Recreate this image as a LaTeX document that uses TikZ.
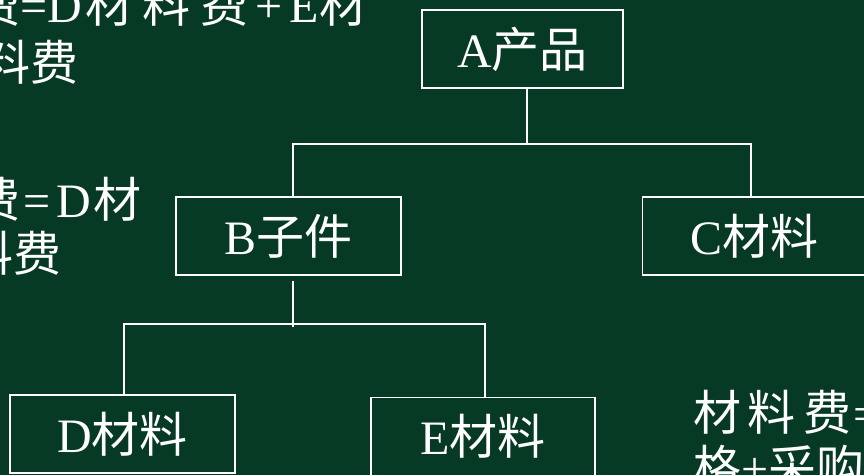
\documentclass[tikz,border=0pt]{standalone}
\usepackage{fontspec}
\setmainfont{Liberation Serif}
\newfontfamily\cjk{Noto Sans CJK SC}
\definecolor{bg}{HTML}{073A24}
\newcommand\cj[1]{{\cjk #1}}
\newcommand\hs[1]{\hspace*{#1pt}}
\begin{document}
\begin{tikzpicture}[x=1pt,y=-1pt,
  box/.style={draw=white, line width=1.6pt, inner sep=0pt, minimum height=78pt,
    text height=36pt, text depth=0pt, font=\fontsize{48}{50}\selectfont, text=white},
  conn/.style={draw=white, line width=1.6pt},
  txt/.style={anchor=base west, inner sep=0pt, text=white, font=\fontsize{48}{50}\selectfont}]
\useasboundingbox (0,0) rectangle (864,475);
\fill[bg] (0,0) rectangle (864,475);
\clip (0,0) rectangle (864,475);

\node[box, minimum width=201pt] (A) at (522.5,49) {A\cj{产品}};
\node[box, minimum width=225pt] (B) at (288.5,236) {B\cj{子件}};
\node[box, minimum width=224pt] (C) at (754.5,236) {C\cj{材料}};
\node[box, minimum width=225pt] (D) at (122.5,434) {D\cj{材料}};
\node[box, minimum width=224pt] (E) at (483,436.5) {E\cj{材料}};

\draw[conn] ([xshift=4.5pt]A.south) -- ++(0,55) coordinate (jA);
\draw[conn] ([xshift=4.5pt]B.north) |- (jA) -| ([xshift=-3.5pt]C.north);
\draw[conn] ([xshift=4.5pt,yshift=-5pt]B.south) -- ([xshift=4.5pt,yshift=-51pt]B.south);
\draw[conn] ([xshift=1.5pt]D.north) |- ([xshift=4.5pt,yshift=-48pt]B.south) -| ([xshift=2pt]E.north);

\node[txt] (t1) at (-28,22) {\cj{费}=D\hs{4}\cj{材}\hs{9}\cj{料}\hs{10}\cj{费}\hs{7}+\hs{7}E\cj{材}};
\node[txt] (t2) at (-18,80) {\cj{料费}};
\node[txt] (t3) at (-28,217) {\cj{费}\hs{3}=\hs{6}D\hs{3}\cj{材}};
\node[txt] (t4) at (-35,271) {\cj{料费}};
\node[txt] (t5) at (693,430) {\cj{材}\hs{6}\cj{料}\hs{8}\cj{费}\hs{2}=};
\node[txt] (t6) at (693,485) {\cj{格}+\cj{采购}};
\end{tikzpicture}
\end{document}
